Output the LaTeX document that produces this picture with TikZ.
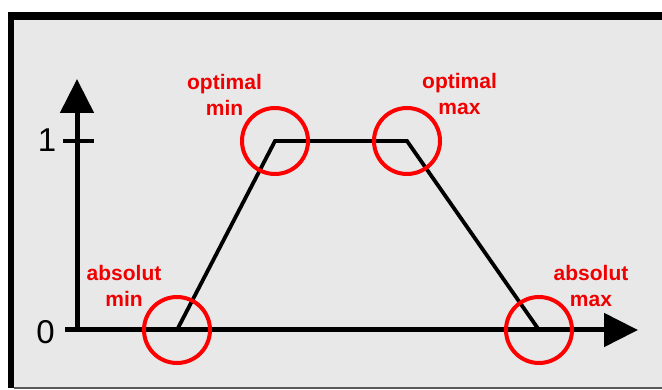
\documentclass[tikz,border=0pt]{standalone}
\usepackage{fontspec}
\setmainfont{Liberation Sans}
\usetikzlibrary{arrows.meta}
\definecolor{panel}{HTML}{E8E8E8}
\definecolor{hot}{HTML}{F00000}
\begin{document}
\begin{tikzpicture}[x=1pt,y=-1pt,
  axis/.style={line width=5pt,-{Triangle[length=34pt,width=33pt]}},
  curve/.style={line width=3.8pt,line join=miter},
  ring/.style={circle,draw=red,line width=4pt,minimum size=66pt,inner sep=0pt},
  lbl/.style={text=hot,align=center,inner sep=0pt,font=\bfseries\fontsize{21}{26}\selectfont},
  num/.style={inner sep=0pt,font=\fontsize{33}{36}\selectfont}]
\useasboundingbox (0,0) rectangle (662,390);
\fill[white] (0,0) rectangle (662,390);
\fill[black] (8,12) rectangle (662,388);
\fill[panel] (14,20) rectangle (662,387);
\draw[line width=1.2pt,black!65] (14,388) -- (662,388);
% coordinates
\coordinate (o) at (77,330);
\coordinate (ytip) at (77,79);
\coordinate (xstart) at (65,330);
\coordinate (xtip) at (638,330);
\coordinate (t1a) at (63,141);
\coordinate (t1b) at (94,141);
\coordinate (amin) at (177,330);
\coordinate (omin) at (275,141);
\coordinate (omax) at (407,141);
\coordinate (amax) at (539,330);
% axes
\draw[axis] (o) -- (ytip);
\draw[axis] (xstart) -- (xtip);
\draw[line width=4.5pt] (t1a) -- (t1b);
% membership function
\draw[curve] (amin) -- (omin) -- (omax) -- (amax);
% rings
\node[ring] (camin) at (amin) {};
\node[ring] (comin) at (omin) {};
\node[ring] (comax) at (omax) {};
\node[ring] (camax) at (amax) {};
% labels
\node[num] (zero) at (45.5,332) {0};
\node[num] (one) at (47,140) {1};
\node[lbl] (lomin) at (224.5,94.4) {optimal\\min};
\node[lbl] (lomax) at (459.5,94.4) {optimal\\max};
\node[lbl] (lamin) at (124,285.5) {absolut\\min};
\node[lbl] (lamax) at (591,285.5) {absolut\\max};
\end{tikzpicture}
\end{document}
